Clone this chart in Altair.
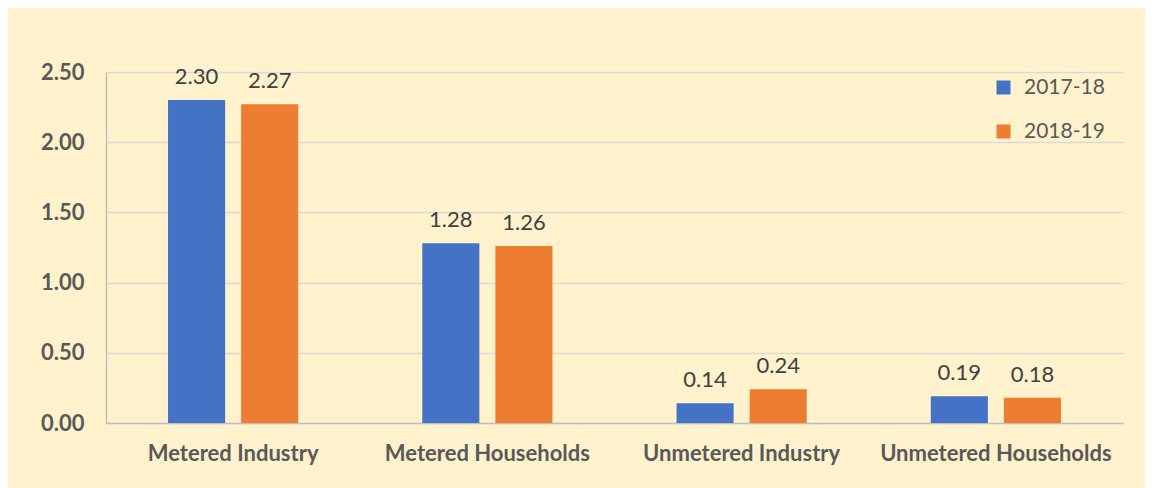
import altair as alt
import pandas as pd

categories = ["Metered Industry", "Metered Households", "Unmetered Industry", "Unmetered Households"]
years = ["2017-18", "2018-19"]
values_2017 = [2.30, 1.28, 0.14, 0.19]
values_2018 = [2.27, 1.26, 0.24, 0.18]
y_ticks = [0, 0.5, 1.0, 1.5, 2.0, 2.5]
colors = ["#4472C4", "#ED7D31"]

rows = []
for c, a, b in zip(categories, values_2017, values_2018):
    rows.append({"category": c, "year": years[0], "value": a})
    rows.append({"category": c, "year": years[1], "value": b})
df = pd.DataFrame(rows)

FONT = "Lato"

x = alt.X("category:N", sort=categories, title=None,
          scale=alt.Scale(paddingInner=0.488, paddingOuter=0.244),
          axis=alt.Axis(labelAngle=0, labelFontWeight="bold", labelFontSize=22,
                        labelColor="#595959", labelPadding=20, ticks=False,
                        labelLimit=400, labelOverlap=False,
                        domainColor="#BFBFBF", domainWidth=1.5, labelFont=FONT))
xo = alt.XOffset("year:N", sort=years, scale=alt.Scale(paddingInner=0.219, paddingOuter=0))
y = alt.Y("value:Q", title=None,
          scale=alt.Scale(domain=[0, 2.5], nice=False),
          axis=alt.Axis(values=y_ticks, format=".2f", labelFontWeight="bold",
                        labelFontSize=22, labelColor="#595959", labelPadding=22,
                        ticks=False, domainColor="#BFBFBF", domainWidth=1.5,
                        gridColor="#D9D9D9", gridWidth=1.5, labelFont=FONT))

bars = alt.Chart(df).mark_bar().encode(
    x=x, xOffset=xo, y=y,
    color=alt.Color("year:N", sort=years,
                    scale=alt.Scale(domain=years, range=colors),
                    legend=alt.Legend(title=None, orient="none", legendX=887, legendY=5,
                                      symbolType="square", symbolSize=196,
                                      symbolStrokeWidth=0, labelFontSize=21,
                                      labelColor="#595959", labelFont=FONT,
                                      rowPadding=22, labelOffset=10)),
)

labels = alt.Chart(df).mark_text(baseline="alphabetic", dy=-16, fontSize=22,
                                 color="#404040", font=FONT).encode(
    x=alt.X("category:N", sort=categories),
    xOffset=alt.XOffset("year:N", sort=years),
    y="value:Q",
    text=alt.Text("value:Q", format=".2f"),
)

chart = alt.layer(bars, labels).properties(
    width=1017, height=351,
    background="#FFF2CC",
    padding={"left": 98, "top": 64, "right": 22, "bottom": 65},
    autosize=alt.AutoSizeParams(type="none"),
).configure_view(stroke=None)

chart.save("out.html", embed_options={"renderer": "svg", "actions": False})
